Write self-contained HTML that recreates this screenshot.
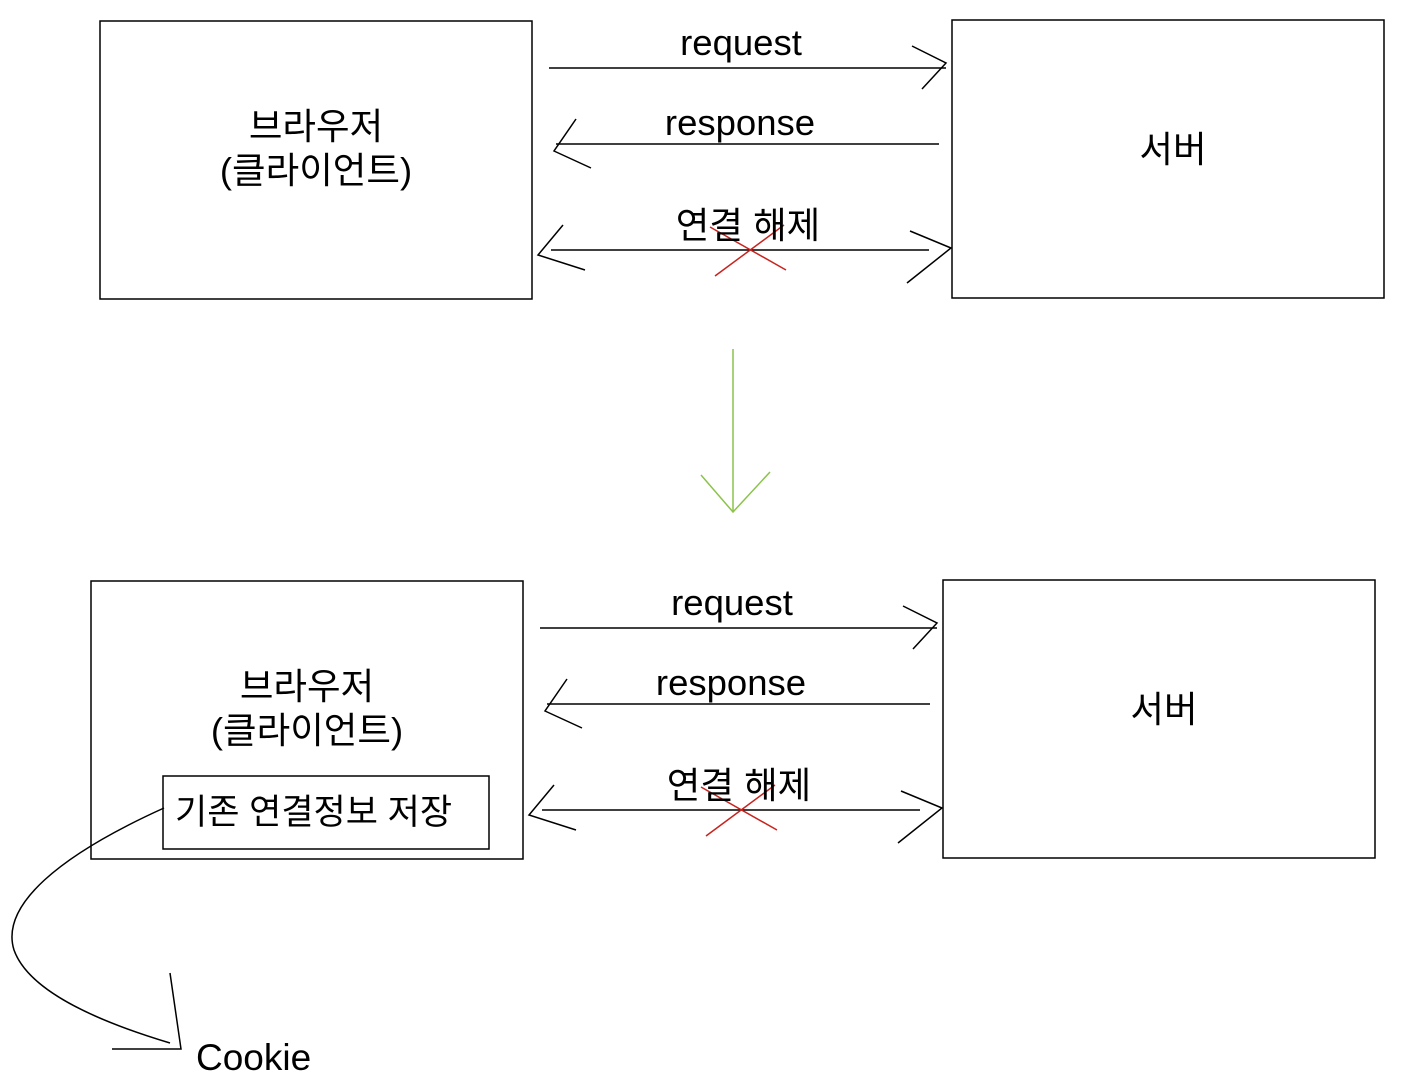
<!DOCTYPE html>
<html><head><meta charset="utf-8"><style>
html,body{margin:0;padding:0;background:#fff;}
svg{display:block;}
text{font-family:"Liberation Sans","Noto Sans CJK KR",sans-serif;fill:#000;}
</style></head><body>
<svg width="1405" height="1091" viewBox="0 0 1405 1091" xmlns="http://www.w3.org/2000/svg">
<g fill="none" stroke="#000" stroke-width="1.5">
  <rect x="100" y="21" width="432" height="278"/>
  <rect x="952" y="20" width="432" height="278"/>
  <line x1="549" y1="68" x2="946" y2="68"/>
  <polyline points="912,46 946,63 922,89"/>
  <line x1="556" y1="144" x2="939" y2="144"/>
  <polyline points="576,119 554,151 591,168"/>
  <line x1="551" y1="250" x2="929" y2="250"/>
  <polyline points="563,225 538,255 585,270"/>
  <polyline points="910,231 951,248 907,283"/>
  <rect x="91" y="581" width="432" height="278"/>
  <rect x="943" y="580" width="432" height="278"/>
  <rect x="163" y="776" width="326" height="73"/>
  <line x1="540" y1="628" x2="937" y2="628"/>
  <polyline points="903,606 937,623 913,649"/>
  <line x1="547" y1="704" x2="930" y2="704"/>
  <polyline points="567,679 545,711 582,728"/>
  <line x1="542" y1="810" x2="920" y2="810"/>
  <polyline points="554,785 529,815 576,830"/>
  <polyline points="901,791 942,808 898,843"/>
  <path d="M164,808 C 60,855 0,905 14,950 C 30,995 110,1025 170,1043"/>
  <polyline points="170,973 181,1049 112,1049"/>
</g>
<g stroke="#c8231e" stroke-width="1.5">
  <line x1="710" y1="227" x2="786" y2="270"/>
  <line x1="715" y1="276" x2="784" y2="225"/>
  <line x1="701" y1="787" x2="777" y2="830"/>
  <line x1="706" y1="836" x2="775" y2="785"/>
</g>
<g fill="none" stroke="#8bc34a" stroke-width="1.5">
  <line x1="733" y1="349" x2="733" y2="512"/>
  <polyline points="701,475 733,512 770,472"/>
</g>
<g font-size="36.5" text-anchor="middle">
  <text x="741" y="55">request</text>
  <text x="740" y="135">response</text>
  <text x="748" y="238">연결 해제</text>
  <text x="316" y="139">브라우저</text>
  <text x="316" y="183">(클라이언트)</text>
  <text x="1173" y="162">서버</text>
  <text x="732" y="615">request</text>
  <text x="731" y="695">response</text>
  <text x="739" y="798">연결 해제</text>
  <text x="307" y="699">브라우저</text>
  <text x="307" y="743">(클라이언트)</text>
  <text x="1164" y="722">서버</text>
</g>
<text x="175" y="824" font-size="35">기존 연결정보 저장</text>
<text x="196" y="1070" font-size="37">Cookie</text>
</svg>
</body></html>
